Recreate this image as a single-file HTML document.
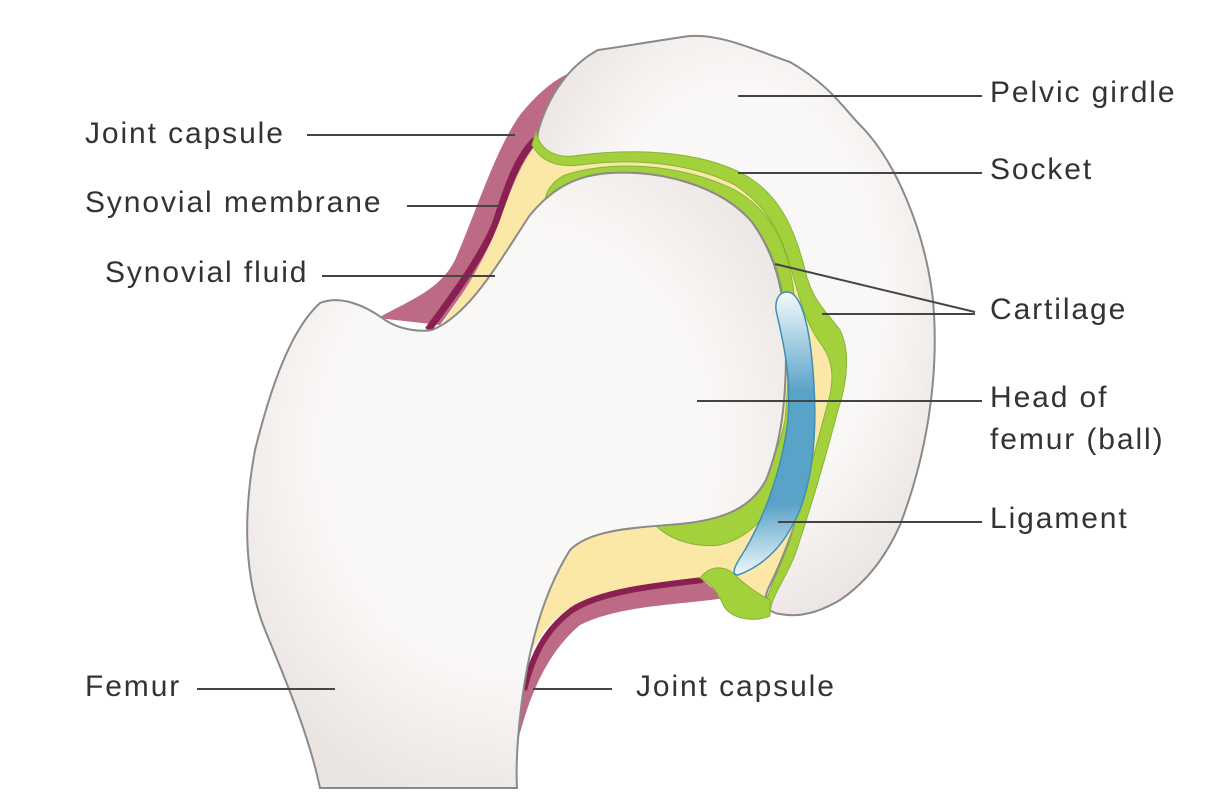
<!DOCTYPE html>
<html><head><style>
html,body{margin:0;padding:0;background:#fff;}
svg{display:block;}
text{font-family:"Liberation Sans",sans-serif;font-size:30px;letter-spacing:1.9px;fill:#333;}
</style></head><body>
<svg width="1210" height="810" viewBox="0 0 1210 810">
<defs>
<radialGradient id="bone" cx="50%" cy="45%" r="60%">
<stop offset="0.6" stop-color="#faf8f7"/><stop offset="1" stop-color="#ebe5e2"/>
</radialGradient>
<linearGradient id="lig" x1="0" y1="0" x2="0" y2="1">
<stop offset="0" stop-color="#f4fafd"/><stop offset="0.35" stop-color="#5aa3c8"/><stop offset="0.75" stop-color="#5aa3c8"/><stop offset="1" stop-color="#eef7fb"/>
</linearGradient>
</defs>
<path d="M378,318 C410,300 440,290 455,260 C475,215 495,150 520,115 C540,90 560,75 578,70 L560,150 C540,160 530,170 520,190 C505,230 480,270 440,325 Z" fill="#bd6b84"/>
<path d="M428,330 C450,300 480,260 495,225 C505,195 515,160 535,140" stroke="#8a1f52" stroke-width="7" fill="none"/>
<path d="M436,332 C460,300 485,260 500,220 C512,185 525,155 540,140 C600,140 700,150 760,190 C800,225 820,290 838,345 C848,380 830,440 812,500 C800,545 790,580 770,600 L740,585 C700,582 640,588 590,598 C560,610 540,630 528,660 L520,640 C540,580 560,540 600,530 L650,520 Z" fill="#fbe8a6"/>
<path d="M700,578 C650,585 600,590 570,610 C545,630 530,660 520,700 L517,745 C530,690 550,650 580,625 C620,605 680,605 725,598 Z" fill="#bd6b84"/>
<path d="M703,580 C650,586 600,592 572,610 C548,628 534,650 524,690" stroke="#8a1f52" stroke-width="6" fill="none"/>
<path d="M538,132 C548,95 570,65 598,50 C640,44 660,40 690,36 C720,34 750,48 790,62 C830,85 845,110 860,125 C895,160 925,230 933,300 C940,380 925,460 900,525 C880,570 855,590 840,600 C820,612 800,618 780,614 C765,612 762,600 770,585 C790,545 810,480 822,440 C835,400 848,370 838,345 C820,320 810,290 795,250 C780,210 760,185 720,168 C670,150 610,150 565,158 C545,160 535,150 538,132 Z" fill="url(#bone)" stroke="#8a8a8a" stroke-width="2"/>
<path d="M536,132 C540,150 555,158 575,156 C630,148 700,150 745,175 C780,195 795,230 805,270 C812,300 825,310 840,330 C850,350 848,380 838,410 C825,460 810,510 795,555 C785,580 772,595 770,612 L763,616 C765,595 780,570 790,540 C805,490 815,450 830,395 C835,370 830,355 818,340 C805,320 800,300 790,265 C780,230 765,205 735,185 C690,162 630,158 580,165 C555,168 540,160 532,145 Z" fill="#a3d13c" stroke="#86b43a" stroke-width="1"/>
<path d="M700,578 C710,565 725,565 735,575 C745,585 760,595 770,600 L770,616 C755,622 735,620 725,608 C718,595 715,585 700,578 Z" fill="#a3d13c" stroke="#86b43a" stroke-width="1"/>
<path d="M548,220 C540,205 545,185 565,175 C610,160 680,163 735,190 C770,210 785,240 792,280 C800,330 800,400 790,450 C780,500 760,535 720,545 C695,548 670,540 655,525 L700,520 C750,505 775,470 785,420 C790,370 790,320 780,280 C770,235 740,205 700,190 C650,175 600,175 575,188 C560,197 555,210 548,220 Z" fill="#a3d13c" stroke="#86b43a" stroke-width="1"/>
<path d="M320,788 C310,740 290,690 265,630 C245,580 242,520 255,450 C270,390 290,330 320,303 C340,295 365,305 385,320 C400,330 420,332 432,330 C470,315 500,260 530,215 C555,185 580,175 610,173 C660,170 720,185 752,222 C778,258 786,300 786,350 C786,400 782,440 766,480 C750,510 720,520 680,524 C630,528 590,530 570,550 C545,590 530,640 522,700 C517,740 516,770 517,788 Z" fill="url(#bone)" stroke="#8a8a8a" stroke-width="2"/>
<path d="M787,292 C800,292 808,320 812,360 C818,420 815,470 800,510 C785,545 765,565 738,575 C730,575 735,565 745,550 C765,515 782,470 788,420 C792,370 780,330 776,310 C775,298 780,292 787,292 Z" fill="url(#lig)" stroke="#3c8fb4" stroke-width="1.5"/>
<g stroke="#444" stroke-width="2">
<line x1="307" y1="135" x2="515" y2="135"/>
<line x1="407" y1="206" x2="500" y2="206"/>
<line x1="322" y1="276" x2="495" y2="276"/>
<line x1="197" y1="689" x2="335" y2="689"/>
<line x1="533" y1="689" x2="612" y2="689"/>
<line x1="738" y1="96" x2="982" y2="96"/>
<line x1="738" y1="173" x2="982" y2="173"/>
<line x1="775" y1="264" x2="975" y2="312"/>
<line x1="822" y1="314" x2="975" y2="314"/>
<line x1="697" y1="401" x2="982" y2="401"/>
<line x1="778" y1="522" x2="982" y2="522"/>
</g>
<text x="85" y="143">Joint capsule</text>
<text x="85" y="212">Synovial membrane</text>
<text x="105" y="282">Synovial fluid</text>
<text x="85" y="696">Femur</text>
<text x="636" y="696">Joint capsule</text>
<text x="990" y="102">Pelvic girdle</text>
<text x="990" y="179">Socket</text>
<text x="990" y="319">Cartilage</text>
<text x="990" y="407">Head of</text>
<text x="990" y="449">femur (ball)</text>
<text x="990" y="528">Ligament</text>
</svg>
</body></html>
